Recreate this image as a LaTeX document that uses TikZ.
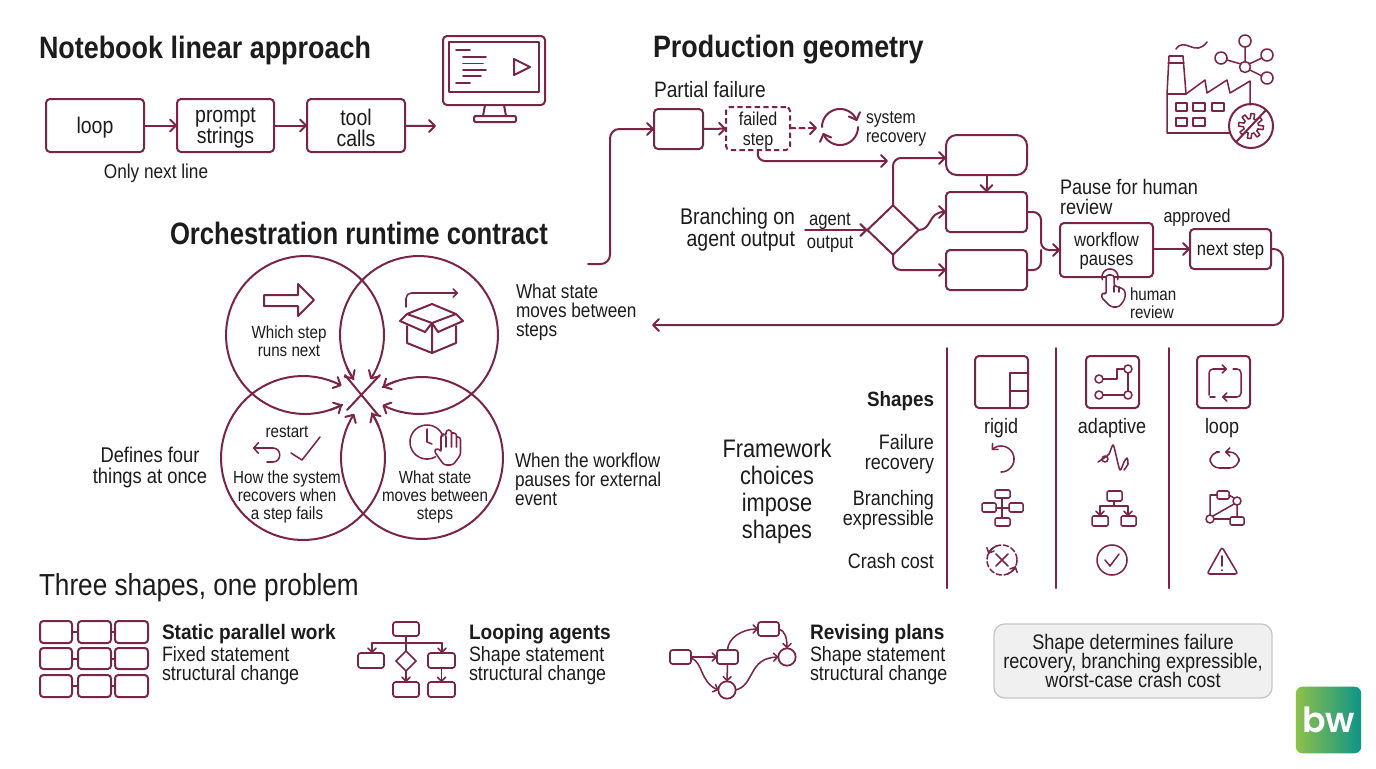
\documentclass[tikz,border=0pt]{standalone}
\usepackage{fontspec}
\setmainfont[FakeStretch=0.86]{Liberation Sans}
\newfontfamily\medf[FakeStretch=0.87,UprightFont=* Bold]{Liberation Sans}
\newfontfamily\medg[FakeStretch=0.83,UprightFont=* Bold]{Liberation Sans}
\newfontfamily\headf[FakeStretch=0.91,UprightFont=* Bold]{Liberation Sans}
\newfontfamily\logof[UprightFont=* SemiBold]{Poppins}
\usetikzlibrary{arrows.meta,shapes.geometric}
\AtBeginDocument{\lineskiplimit=-8pt\normallineskiplimit=-8pt\relax}
\definecolor{ink}{HTML}{7A2448}
\definecolor{txt}{HTML}{1C1C1C}
\definecolor{LogoL}{HTML}{8DC04B}
\definecolor{LogoR}{HTML}{0E9488}
\tikzset{
  x=0.75pt,y=-0.75pt,
  every node/.style={inner sep=0pt,outer sep=0pt,text=txt},
  ln/.style={draw=ink,line width=1.5pt,line cap=round,line join=round},
  thin line/.style={draw=ink,line width=1.15pt,line cap=round,line join=round},
  bx/.style={draw=ink,line width=1.5pt,rounded corners=3pt,align=center},
  ar/.style={ln,-{Straight Barb[length=4.5pt,width=9pt,round]}},
  ars/.style={thin line,-{Straight Barb[length=3pt,width=6pt,round]}},
  title/.style={font=\medf\fontsize{23.2}{26}\selectfont,anchor=west},
  lab/.style={font=\fontsize{15}{14.3}\selectfont,align=center},
  lab+/.style={font=\fontsize{15.7}{15}\selectfont,align=center},
  small/.style={font=\fontsize{13.2}{13.4}\selectfont,align=center},
  head/.style={font=\headf\fontsize{15.7}{17}\selectfont,anchor=west},
  sub/.style={font=\fontsize{15.6}{14.4}\selectfont,anchor=west,align=left},
  big box text/.style={font=\fontsize{17}{15.75}\selectfont},
  mid box text/.style={font=\fontsize{14.5}{14.5}\selectfont},
}
\newcommand\bxn[7][]{%
  \pgfmathsetmacro\bxcx{(#3+#5)/2}\pgfmathsetmacro\bxcy{(#4+#6)/2}%
  \node[bx,minimum width={(#5-#3)*0.75pt},minimum height={(#6-#4)*0.75pt},#1] (#2) at (\bxcx,\bxcy) {#7};}
\newcommand\parc[6][ln]{%
  \draw[#1] plot[domain=#5:#6,samples=70] ({#2+#4*cos(\x)},{#3+#4*sin(\x)});}
\newcommand\dn[1]{\rule{0pt}{#1pt}}
\begin{document}
\begin{tikzpicture}
\useasboundingbox (0,0) rectangle (1376,768);
\fill[white] (0,0) rectangle (1376,768);

% ---- titles
\node[title] (t1) at (39,50) {Notebook linear approach};
\node[title] (t2) at (653,50) {Production geometry};
\node[title,font=\medg\fontsize{23.2}{26}\selectfont] (t3) at (170,233.5) {Orchestration runtime contract};
\node[title,font=\fontsize{22.8}{26}\selectfont] (t4) at (39,588) {Three shapes, one problem};

% ---- notebook row
\bxn[big box text]{loop}{46}{99}{144}{152}{\dn{15}loop}
\bxn[big box text]{prompt}{177}{99}{274}{152}{\dn{15.3}prompt\\strings}
\bxn[big box text]{tool}{307}{99}{405}{152}{\dn{15.3}tool\\calls}
\coordinate (toolout) at (436,126);
\draw[ar] (loop) -- (prompt);
\draw[ar] (prompt) -- (tool);
\draw[ar] (tool) -- (toolout);
\node[lab] (only) at (156,173) {Only next line};
% monitor
\draw[ln,rounded corners=3pt] (443,36) rectangle (545,105);
\draw[ln] (449,42) rectangle (539,92);
\draw[ln] (485,105) -- (483,116) (504,105) -- (506,116);
\draw[ln,rounded corners=1pt] (474,116) rectangle (516,122);
\draw[thin line] (456,50)--(470,50) (463,57)--(486,57) (463,63.5)--(483,63.5) (463,70)--(486,70) (463,76)--(481,76) (456,83)--(470,83);
\draw[ln] (514,59) -- (530,67) -- (514,75) -- cycle;

% ---- production
\node[anchor=west,font=\fontsize{16.7}{17}\selectfont] (pf) at (654,90) {Partial failure};
\bxn{A}{654}{109}{703}{149}{}
\bxn[dashed,dash pattern=on 4pt off 2.5pt,font=\fontsize{14}{15}\selectfont]{failed}{726}{107}{790}{150}{\dn{13}failed\\step}
\coordinate (entry) at (588,264);
\draw[ar,rounded corners=7pt] (entry) -- (610,264) -- (610,129) -- (A.west);
\draw[ar] (A) -- (failed);
\coordinate (recin) at (817,128);
\draw[ar,dashed,dash pattern=on 4pt off 3pt] (failed) -- (recin);
\parc[ar]{840}{127}{18}{180}{340}
\parc[ar]{840}{127}{18}{0}{160}
\node[anchor=west,align=left,font=\fontsize{13.7}{14.3}\selectfont] (sys) at (866,129) {system\\recovery};
\bxn[rounded corners=8pt]{top}{946}{135}{1027}{175}{}
\bxn{mid}{946}{192}{1027}{232}{}
\bxn{low}{946}{250}{1027}{290}{}
\node[diamond,draw=ink,line width=1.5pt,minimum width=38.5pt,minimum height=37pt,aspect=1] (dia) at (893,230) {};
\coordinate (gate) at (888,161);
\draw[ar,rounded corners=6pt] (failed.south) -- (757,161) -- (gate);
\draw[ar,rounded corners=6pt] (dia.north) -- (893,158) -- ([yshift=-2.25pt]top.west);
\draw[ar] (top.south) -- (mid.north);
\draw[ar] (dia.east) .. controls (932,230) and (928,212) .. (mid.west);
\draw[ar,rounded corners=6pt] (dia.south) -- (893,270) -- (low.west);
\node[align=right,anchor=east,font=\fontsize{17}{16.5}\selectfont] (bro) at (795,229.5) {Branching on\\agent output};
\coordinate (agin) at (805,230);
\draw[ar] (agin) -- (dia.west);
\node[small,font=\fontsize{14.5}{14}\selectfont] (ag1) at (830,221) {agent};
\node[small,font=\fontsize{14.5}{14}\selectfont] (ag2) at (830,244) {output};
\node[anchor=west,align=left,font=\fontsize{15.8}{15}\selectfont] (pause) at (1060,197) {Pause for human\\review};
\bxn[mid box text]{wf}{1060}{223}{1153}{277}{\dn{12}workflow\\pauses}
\bxn[mid box text]{next}{1190}{229}{1271}{269}{\dn{13}next step}
\draw[ar,rounded corners=6pt] (mid.east) -- (1041,212) -- (1041,250) -- (wf.west);
\draw[ln,rounded corners=6pt] (low.east) -- (1041,270) -- (1041,250);
\draw[ar] (wf.east|-next.west) -- (next.west);
\node[small,font=\fontsize{14}{15}\selectfont] (appr) at (1197,218) {approved};
\coordinate (exit) at (652,325);
\draw[ar,rounded corners=7pt] (next.east) -- (1283,249) -- (1283,325) -- (exit);
\node[small,anchor=west,align=left] (hr) at (1130,303) {human\\review};
% pointing hand
\draw[thin line,fill=white,rounded corners=2pt] (1106,295) -- (1106,275) -- (1114,275) -- (1114,286) -- (1119,287) -- (1125,290) -- (1125,299) -- (1119,307) -- (1111,307) -- (1101,297) -- (1103,292) -- cycle;
\draw[thin line] (1119,287) -- (1119,292) (1114,286) -- (1114,292);
\parc[thin line]{1110}{277}{8}{160}{380}

% factory
\draw[thin line] (1167,94) -- (1169,56) -- (1183,56) -- (1186,94) (1168,63) -- (1184,63);
\draw[thin line] (1167,94) -- (1167,133) -- (1230,133) (1167,94) -- (1186,94) -- (1205,80) -- (1207,93) -- (1227,80) -- (1230,93) -- (1250,81) -- (1250,105);
\draw[thin line] (1176,103) rectangle (1187,111) (1193,103) rectangle (1205,111) (1212,103) rectangle (1224,111) (1176,118) rectangle (1187,126) (1193,118) rectangle (1205,126);
\draw[ln] (1251,126) circle[radius=22];
\draw[thin line] plot[domain=0:360,samples=65] ({1251+(10+2.5*sign(sin(8*\x+1)))*cos(\x)},{126+(10+2.5*sign(sin(8*\x+1)))*sin(\x)}) -- cycle;
\draw[ln] (1266,110) -- (1236,142);
\draw[thin line] (1176,49) .. controls (1185,36) and (1195,58) .. (1207,42);
\draw[thin line] (1245,62) -- (1245,47) (1241,64) -- (1227,60) (1249,64) -- (1262,58) (1250,70) -- (1262,76);
\draw[thin line] (1245,67) circle[radius=5.5] (1245,41) circle[radius=6] (1221,58) circle[radius=6] (1267,55) circle[radius=6] (1267,78) circle[radius=6];

% ---- venn
\parc[ar]{305}{335}{79}{62}{394}
\parc[ar]{419}{335}{79}{146}{477.5}
\parc[ar]{303}{458}{82}{-33}{298}
\parc[ar]{422}{458}{81}{241}{573}
\parc[ar]{305}{335}{79}{72}{62}
\parc[ar]{419}{335}{79}{156}{146}
\parc[ar]{303}{458}{82}{-23}{-33}
\parc[ar]{422}{458}{81}{251}{241}
\draw[ln] (345,375) -- (378,415) (380,375) -- (347,410);
\draw[ln] (264,295) -- (298,295) -- (298,284) -- (314,300) -- (298,316) -- (298,306) -- (264,306) -- cycle;
\node[small] (v1) at (289,341) {Which step\\runs next};
\draw[ars,rounded corners=4pt] (406,307) -- (406,293) -- (458,293);
\draw[ln] (407,314) -- (432,304) -- (456,314) -- (432,323) -- cycle;
\draw[ln] (407,314) -- (400,321) -- (425,332) -- (432,323) -- (438,332) -- (463,321) -- (456,314);
\draw[ln] (407,326) -- (407,343) -- (432,353) -- (456,343) -- (456,326) (432,323) -- (432,353);
\node[small] (restart) at (287,432) {restart};
\draw[thin line,-{Straight Barb[length=3.5pt,width=8pt,round]}] (267,462) -- (273,462) .. controls (282,462) and (282,448) .. (273,448) -- (253,448);
\draw[thin line] (291,453) -- (302,460) -- (320,437);
\node[small] (v3) at (287,497) {How the system\\recovers when\\a step fails};
\parc[thin line]{427}{442}{17}{60}{340}
\draw[thin line] (427,429) -- (427,442) -- (432,444);
\draw[thin line,rounded corners=2pt] (441,450) -- (441,434) -- (446,434) -- (446,447) (446,434) -- (446,430) -- (451.5,430) -- (451.5,447) (451.5,433) -- (456.5,433) -- (456.5,447) (456.5,437) -- (460.5,437) -- (460.5,455) -- (453,465) -- (444,465) -- (434,451) -- (437,448) -- (441,451);
\node[small] (v4) at (435,497) {What state\\moves between\\steps};
\node[lab,anchor=west,align=left] (s1) at (516,312) {What state\\moves between\\steps};
\node[lab,anchor=west,align=left] (s2) at (515,479) {When the workflow\\pauses for external\\event};
\node[align=center,font=\fontsize{16}{15.8}\selectfont] (s3) at (150,467.5) {Defines four\\things at once};

% ---- table
\coordinate (c1t) at (947,348); \coordinate (c1b) at (947,588);
\coordinate (c2t) at (1056,348); \coordinate (c2b) at (1056,588);
\coordinate (c3t) at (1169,348); \coordinate (c3b) at (1169,588);
\draw[ln] (c1t) -- (c1b); \draw[ln] (c2t) -- (c2b); \draw[ln] (c3t) -- (c3b);
\node[font=\fontsize{19}{20.25}\selectfont,align=center] (fw) at (777,491.5) {Framework\\choices\\impose\\shapes};
\node[font=\headf\fontsize{15.5}{16}\selectfont,anchor=east] (sh) at (934,401) {Shapes};
\node[lab+,anchor=east,align=right] (r1) at (934,454) {Failure\\recovery};
\node[lab+,anchor=east,align=right] (r2) at (934,510) {Branching\\expressible};
\node[lab+,anchor=east,align=right] (r3) at (934,561) {Crash cost};
\node[lab+] (c1) at (1001,428) {rigid};
\node[lab+] (c2) at (1112,428) {adaptive};
\node[lab+] (c3) at (1222,428) {loop};
% header icons
\draw[ln,rounded corners=3pt] (975,356) rectangle (1028,408);
\draw[ln] (1010,408) -- (1010,373) -- (1028,373) (1010,391) -- (1028,391);
\draw[ln,rounded corners=3pt] (1086,356) rectangle (1139,408);
\draw[thin line] (1099,379) circle[radius=4] (1128,369) circle[radius=4] (1099,395) circle[radius=4] (1128,395) circle[radius=4];
\draw[thin line] (1103,379) -- (1117,379) -- (1117,369) -- (1124,369) (1128,373) -- (1128,391) (1103,395) -- (1124,395);
\draw[ln,rounded corners=3pt] (1197,356) rectangle (1250,408);
\draw[ars,rounded corners=3pt] (1209,395) -- (1209,369) -- (1227,369);
\draw[ars,rounded corners=3pt] (1233,369) -- (1241,369) -- (1241,397) -- (1222,397);
\draw[thin line] (1215,397) -- (1210,397);
% recovery row
\parc[ars]{1001}{459}{13}{90}{-135}
\draw[thin line] plot[smooth] coordinates {(1098,462) (1104,458) (1109,454) (1113,445) (1116,455) (1120,470) (1124,462) (1127,458) (1128,464) (1124,470)};
\draw[thin line] (1105,459) circle[radius=3];
\draw[ars,rounded corners=7pt] (1216,452) -- (1210,452) -- (1210,468) -- (1239,468) -- (1239,452) -- (1225,452);
% branching row
\draw[thin line,rounded corners=1pt] (995,490) rectangle (1010,498) (982,503) rectangle (996,512) (1009,503) rectangle (1023,512) (995,518) rectangle (1010,526);
\draw[thin line] (1002,498) -- (1002,518) (996,508) -- (1009,508);
\draw[thin line,rounded corners=1pt] (1107,491) rectangle (1122,501) (1092,516) rectangle (1108,526) (1121,516) rectangle (1136,526);
\draw[thin line] (1114,501) -- (1114,506);
\draw[ars] (1114,506) -- (1100,506) -- (1100,516);
\draw[ars] (1114,506) -- (1128,506) -- (1128,516);
\draw[thin line,rounded corners=1pt] (1217,491) rectangle (1229,499) (1230,517) rectangle (1244,525);
\draw[thin line] (1237,501) circle[radius=4] (1210,519) circle[radius=4];
\draw[thin line] (1210,515) -- (1210,495) -- (1217,495) (1229,495) -- (1234,498) (1213,516) -- (1234,504) (1214,519) -- (1230,519) (1237,505) -- (1237,517);
% crash row
\draw[thin line,dashed,dash pattern=on 4pt off 2pt] (1002,560) circle[radius=15];
\draw[thin line] (996,554) -- (1008,566) (1008,554) -- (996,566);
\parc[ars]{1002}{560}{15}{70}{25}
\parc[ars]{1002}{560}{15}{250}{205}
\draw[thin line] (1112,560) circle[radius=15];
\draw[thin line] (1105,560) -- (1110,566) -- (1119,554);
\draw[thin line,rounded corners=2pt] (1222,547) -- (1238,574) -- (1207,574) -- cycle;
\draw[thin line] (1222,556) -- (1222,566) (1222,570) -- (1222,570.5);

% ---- bottom
\foreach \yy/\yb in {621/643,648/669,675/697}{
  \draw[ln,rounded corners=2.5pt] (40,\yy) rectangle (72,\yb) (78,\yy) rectangle (111,\yb) (115,\yy) rectangle (148,\yb);
  \pgfmathsetmacro\ym{(\yy+\yb)/2}
  \draw[ln] (72,\ym) -- (78,\ym) (111,\ym) -- (115,\ym);
}
\node[head] (h1) at (162,634) {Static parallel work};
\node[sub] (b1) at (162,665.5) {Fixed statement\\structural change};
\bxn[line width=1.3pt,rounded corners=2pt]{ft}{393}{622}{419}{636}{}
\bxn[line width=1.3pt,rounded corners=2pt]{fl}{358}{653}{384}{668}{}
\bxn[line width=1.3pt,rounded corners=2pt]{fr}{428}{653}{455}{668}{}
\bxn[line width=1.3pt,rounded corners=2pt]{fb1}{393}{682}{419}{697}{}
\bxn[line width=1.3pt,rounded corners=2pt]{fb2}{428}{682}{455}{697}{}
\node[diamond,draw=ink,line width=1.3pt,minimum width=15pt,minimum height=15pt,aspect=1] (fd) at (406,661) {};
\draw[thin line] (ft.south) -- (fd.north) (372,643) -- (442,643);
\draw[ars] (372,643) -- (372,653);
\draw[ars] (442,643) -- (442,653);
\draw[ars] (fd.south) -- (fb1.north);
\draw[ars] (fr.south) -- (fb2.north);
\node[head] (h2) at (469,634) {Looping agents};
\node[sub] (b2) at (469,665.5) {Shape statement\\structural change};
\bxn[line width=1.3pt,rounded corners=2pt]{r1b}{670}{650}{691}{664}{}
\bxn[line width=1.3pt,rounded corners=2pt]{r2b}{717}{650}{738}{664}{}
\bxn[line width=1.3pt,rounded corners=2pt]{r3b}{758}{622}{779}{636}{}
\node[circle,draw=ink,line width=1.3pt,minimum size=13pt] (rc1) at (727,690) {};
\node[circle,draw=ink,line width=1.3pt,minimum size=13pt] (rc2) at (787,657) {};
\draw[ars] (r1b) -- (r2b);
\draw[ars] (691,658) .. controls (703,662) and (700,682) .. (rc1.west);
\draw[ars] (r2b.south) -- (rc1.north);
\draw[ars] (r2b.north) .. controls (728,638) and (742,629) .. (r3b.west);
\draw[ars] (r3b.east) .. controls (785,631) and (787,638) .. (rc2.north);
\draw[ars] (rc1.east) .. controls (755,685) and (748,658) .. (rc2.west);
\node[head] (h3) at (810,634) {Revising plans};
\node[sub] (b3) at (810,665.5) {Shape statement\\structural change};
\node[draw=black!22,fill=black!6,line width=1pt,rounded corners=8pt,minimum width=208.5pt,minimum height=55.5pt,align=center,font=\fontsize{15.8}{14.5}\selectfont] (note) at (1133,661) {Shape determines failure\\recovery, branching expressible,\\worst-case crash cost};
\node[rounded corners=5pt,left color=LogoL,right color=LogoR,minimum width=49pt,minimum height=50pt,text=white,font=\logof\fontsize{26}{26}\selectfont] (bw) at (1328.5,720) {bw};
\end{tikzpicture}
\end{document}
